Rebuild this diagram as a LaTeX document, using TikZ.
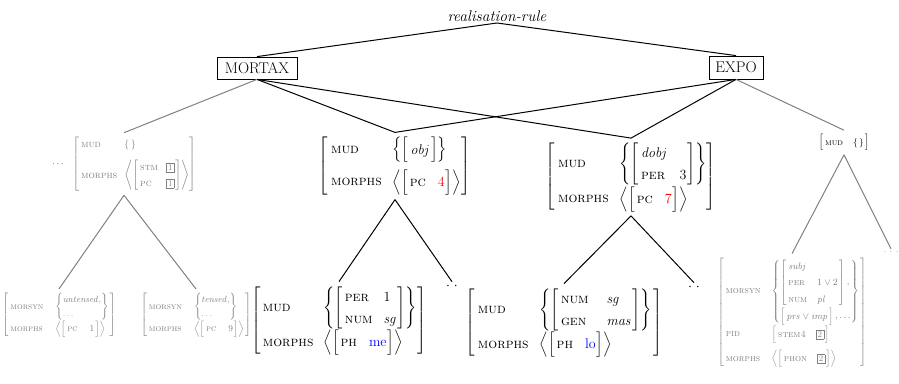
\RequirePackage{fix-cm}
\documentclass[tikz,border=0pt]{standalone}
\usepackage{amsmath,amssymb}
\definecolor{avgray}{gray}{0.5}
\definecolor{lngray}{gray}{0.5}
\newcommand{\ft}[1]{\textsc{#1}}
\newcommand{\tg}[1]{{\setlength{\fboxsep}{1.5pt}\fbox{\fontsize{8.5}{9}\selectfont#1}}}
\newcommand{\ST}[1]{\renewcommand{\arraystretch}{#1}}
\renewcommand{\arraystretch}{1.25}
\tikzset{
  avm/.style={inner xsep=0pt, inner ysep=4pt, anchor=center},
  big/.style={font=\fontsize{14}{17}\selectfont},
  mid/.style={font=\fontsize{10}{12}\selectfont, text=avgray},
  sml/.style={font=\fontsize{9}{11}\selectfont, text=avgray},
  boxn/.style={draw, line width=0.8pt, inner sep=0pt, font=\fontsize{15.5}{18}\selectfont},
  ln/.style={line width=1pt, black},
  gln/.style={line width=1pt, lngray},
}
\begin{document}
\begin{tikzpicture}[x=1pt,y=-1pt]
\useasboundingbox (0,0) rectangle (899,383);

\node[anchor=south, inner sep=1pt, font=\fontsize{15.5}{18}\selectfont] (rr) at (497,23) {\textit{realisation-rule}};
\node[boxn, minimum width=80pt, minimum height=22pt] (mortax) at (257,68) {MORTAX};
\node[boxn, minimum width=54pt, minimum height=23pt] (expo) at (736,67.5) {EXPO};

% top middle AVMs
\node[avm, big] (m1) at (395,166) {$\left[\begin{array}{@{\hspace{3pt}}l@{\hspace{11pt}}l@{\hspace{1pt}}}
\ft{mud} & \left\{\ST{1.5}\left[\begin{array}{@{\hspace{2pt}}l@{\hspace{1pt}}}\mathit{obj}\end{array}\right]\right\}\\[10pt]
\ft{morphs} & \left\langle\left[\begin{array}{@{\hspace{2pt}}l@{\hspace{12pt}}l@{\hspace{1pt}}}\ft{pc} & \textcolor{red}{4}\end{array}\right]\right\rangle
\end{array}\right]$};

\node[avm, big] (m2) at (631,177) {$\left[\begin{array}{@{\hspace{3pt}}l@{\hspace{11pt}}l@{\hspace{0pt}}}
\ft{mud} & \left\{\ST{1.3}\left[\begin{array}{@{\hspace{2pt}}l@{\hspace{12pt}}l@{\hspace{1pt}}}\mathit{dobj} & \\ \ft{per} & 3\end{array}\right]\right\}\\[8pt]
\ft{morphs} & \left\langle\left[\begin{array}{@{\hspace{2pt}}l@{\hspace{12pt}}l@{\hspace{1pt}}}\ft{pc} & \textcolor{red}{7}\end{array}\right]\right\rangle
\end{array}\right]$};

% bottom middle AVMs
\node[avm, big] (b1) at (339,320.5) {$\left[\begin{array}{@{\hspace{2pt}}l@{\hspace{10pt}}l@{\hspace{0pt}}}
\ft{mud} & \left\{\ST{1.3}\left[\begin{array}{@{\hspace{2pt}}l@{\hspace{11pt}}l@{\hspace{1pt}}}\ft{per} & 1\\ \ft{num} & \mathit{sg}\end{array}\right]\right\}\\[8pt]
\ft{morphs} & \left\langle\left[\begin{array}{@{\hspace{2pt}}l@{\hspace{12pt}}l@{\hspace{1pt}}}\ft{ph} & \textcolor{blue}{\mathrm{me}}\end{array}\right]\right\rangle
\end{array}\right]$};

\node[avm, big] (b2) at (564,322.5) {$\left[\begin{array}{@{\hspace{3pt}}l@{\hspace{11pt}}l@{\hspace{1pt}}}
\ft{mud} & \left\{\ST{1.3}\left[\begin{array}{@{\hspace{2pt}}l@{\hspace{18pt}}l@{\hspace{1pt}}}\ft{num} & \mathit{sg}\\ \ft{gen} & \mathit{mas}\end{array}\right]\right\}\\[8pt]
\ft{morphs} & \left\langle\left[\begin{array}{@{\hspace{2pt}}l@{\hspace{12pt}}l@{\hspace{1pt}}}\ft{ph} & \textcolor{blue}{\mathrm{lo}}\end{array}\right]\right\rangle
\end{array}\right]$};

\node[inner sep=1pt, big] (d1) at (452,286) {$\cdot\;\cdot$};
\node[inner sep=1pt, big] (d2) at (694,287) {$\cdot\;\cdot$};

% left gray
\node[avm, mid] (l1) at (124,164) {$\cdots\hspace{7pt}\left[\begin{array}{@{\hspace{2pt}}l@{\hspace{7pt}}l@{\hspace{0pt}}}
\ft{mud} & \{\,\}\\[8pt]
\ft{morphs} & \left\langle\ST{1.3}\left[\begin{array}{@{\hspace{2pt}}l@{\hspace{8pt}}l@{\hspace{1pt}}}\ft{stm} & \tg{1}\\ \ft{pc} & \tg{1}\end{array}\right]\right\rangle
\end{array}\right]$};

\node[avm, sml] (lb1) at (59,315) {$\left[\begin{array}{@{\hspace{2pt}}l@{\hspace{12pt}}l@{\hspace{1pt}}}
\ft{morsyn} & \left\{\begin{array}{@{}l@{}}\mathit{untensed,}\\ \ldots\end{array}\right\}\\[2pt]
\ft{morphs} & \left\langle\left[\begin{array}{@{\hspace{2pt}}l@{\hspace{12pt}}l@{\hspace{1pt}}}\ft{pc} & 1\end{array}\right]\right\rangle
\end{array}\right]$};

\node[avm, sml] (lb2) at (196,315) {$\left[\begin{array}{@{\hspace{2pt}}l@{\hspace{12pt}}l@{\hspace{1pt}}}
\ft{morsyn} & \left\{\begin{array}{@{}l@{}}\mathit{tensed,}\\ \ldots\end{array}\right\}\\[2pt]
\ft{morphs} & \left\langle\left[\begin{array}{@{\hspace{2pt}}l@{\hspace{12pt}}l@{\hspace{1pt}}}\ft{pc} & 9\end{array}\right]\right\rangle
\end{array}\right]$};

% right
\node[avm, font=\fontsize{9}{11}\selectfont] (r1) at (844,142.5) {$\left[\begin{array}{@{\hspace{2pt}}l@{\hspace{10pt}}l@{\hspace{1pt}}}\ft{mud} & \{\,\}\end{array}\right]$};

\node[avm, font=\fontsize{9.5}{11}\selectfont, text=avgray] (rb) at (792,312.5) {$\ST{1.5}\left[\begin{array}{@{\hspace{2pt}}l@{\hspace{11pt}}l@{\hspace{1pt}}}
\ft{morsyn} & \left\{\begin{array}{@{}l@{}}\left[\begin{array}{@{\hspace{2pt}}l@{\hspace{10pt}}l@{\hspace{1pt}}}\mathit{subj} & \\ \ft{per} & 1\vee 2\\ \ft{num} & \mathit{pl}\end{array}\right],\\[6pt] \left[\begin{array}{@{\hspace{2pt}}l@{\hspace{1pt}}}\mathit{prs}\vee\mathit{imp}\end{array}\right],\ldots\end{array}\right\}\\[8pt]
\ft{pid} & \left[\begin{array}{@{\hspace{2pt}}l@{\hspace{10pt}}l@{\hspace{1pt}}}\ft{stem4} & \tg{2}\end{array}\right]\\[8pt]
\ft{morphs} & \left\langle\left[\begin{array}{@{\hspace{2pt}}l@{\hspace{10pt}}l@{\hspace{1pt}}}\ft{phon} & \tg{2}\end{array}\right]\right\rangle
\end{array}\right]$};

\node[inner sep=1pt, sml] (d3) at (891,252) {$\cdot\,\cdot\,\cdot$};

% connectors
\draw[ln] (rr.south) -- (mortax.north);
\draw[ln] (rr.south) -- (expo.north);
\draw[ln] (mortax.south) -- (m1.north);
\draw[ln] (mortax.south) -- (m2.north);
\draw[ln] (expo.south) -- (m1.north);
\draw[ln] (expo.south) -- (m2.north);
\draw[gln] (mortax.south) -- (l1.north);
\draw[gln] (expo.south) -- (r1.north);
\draw[ln] (m1.south) -- (b1.north);
\draw[ln] (m1.south) -- (d1.north);
\draw[ln] (m2.south) -- (b2.north);
\draw[ln] (m2.south) -- (d2.north);
\draw[gln] (l1.south) -- (lb1.north);
\draw[gln] (l1.south) -- (lb2.north);
\draw[gln] (r1.south) -- (rb.north);
\draw[gln] (r1.south) -- (d3.north);
\end{tikzpicture}
\end{document}
